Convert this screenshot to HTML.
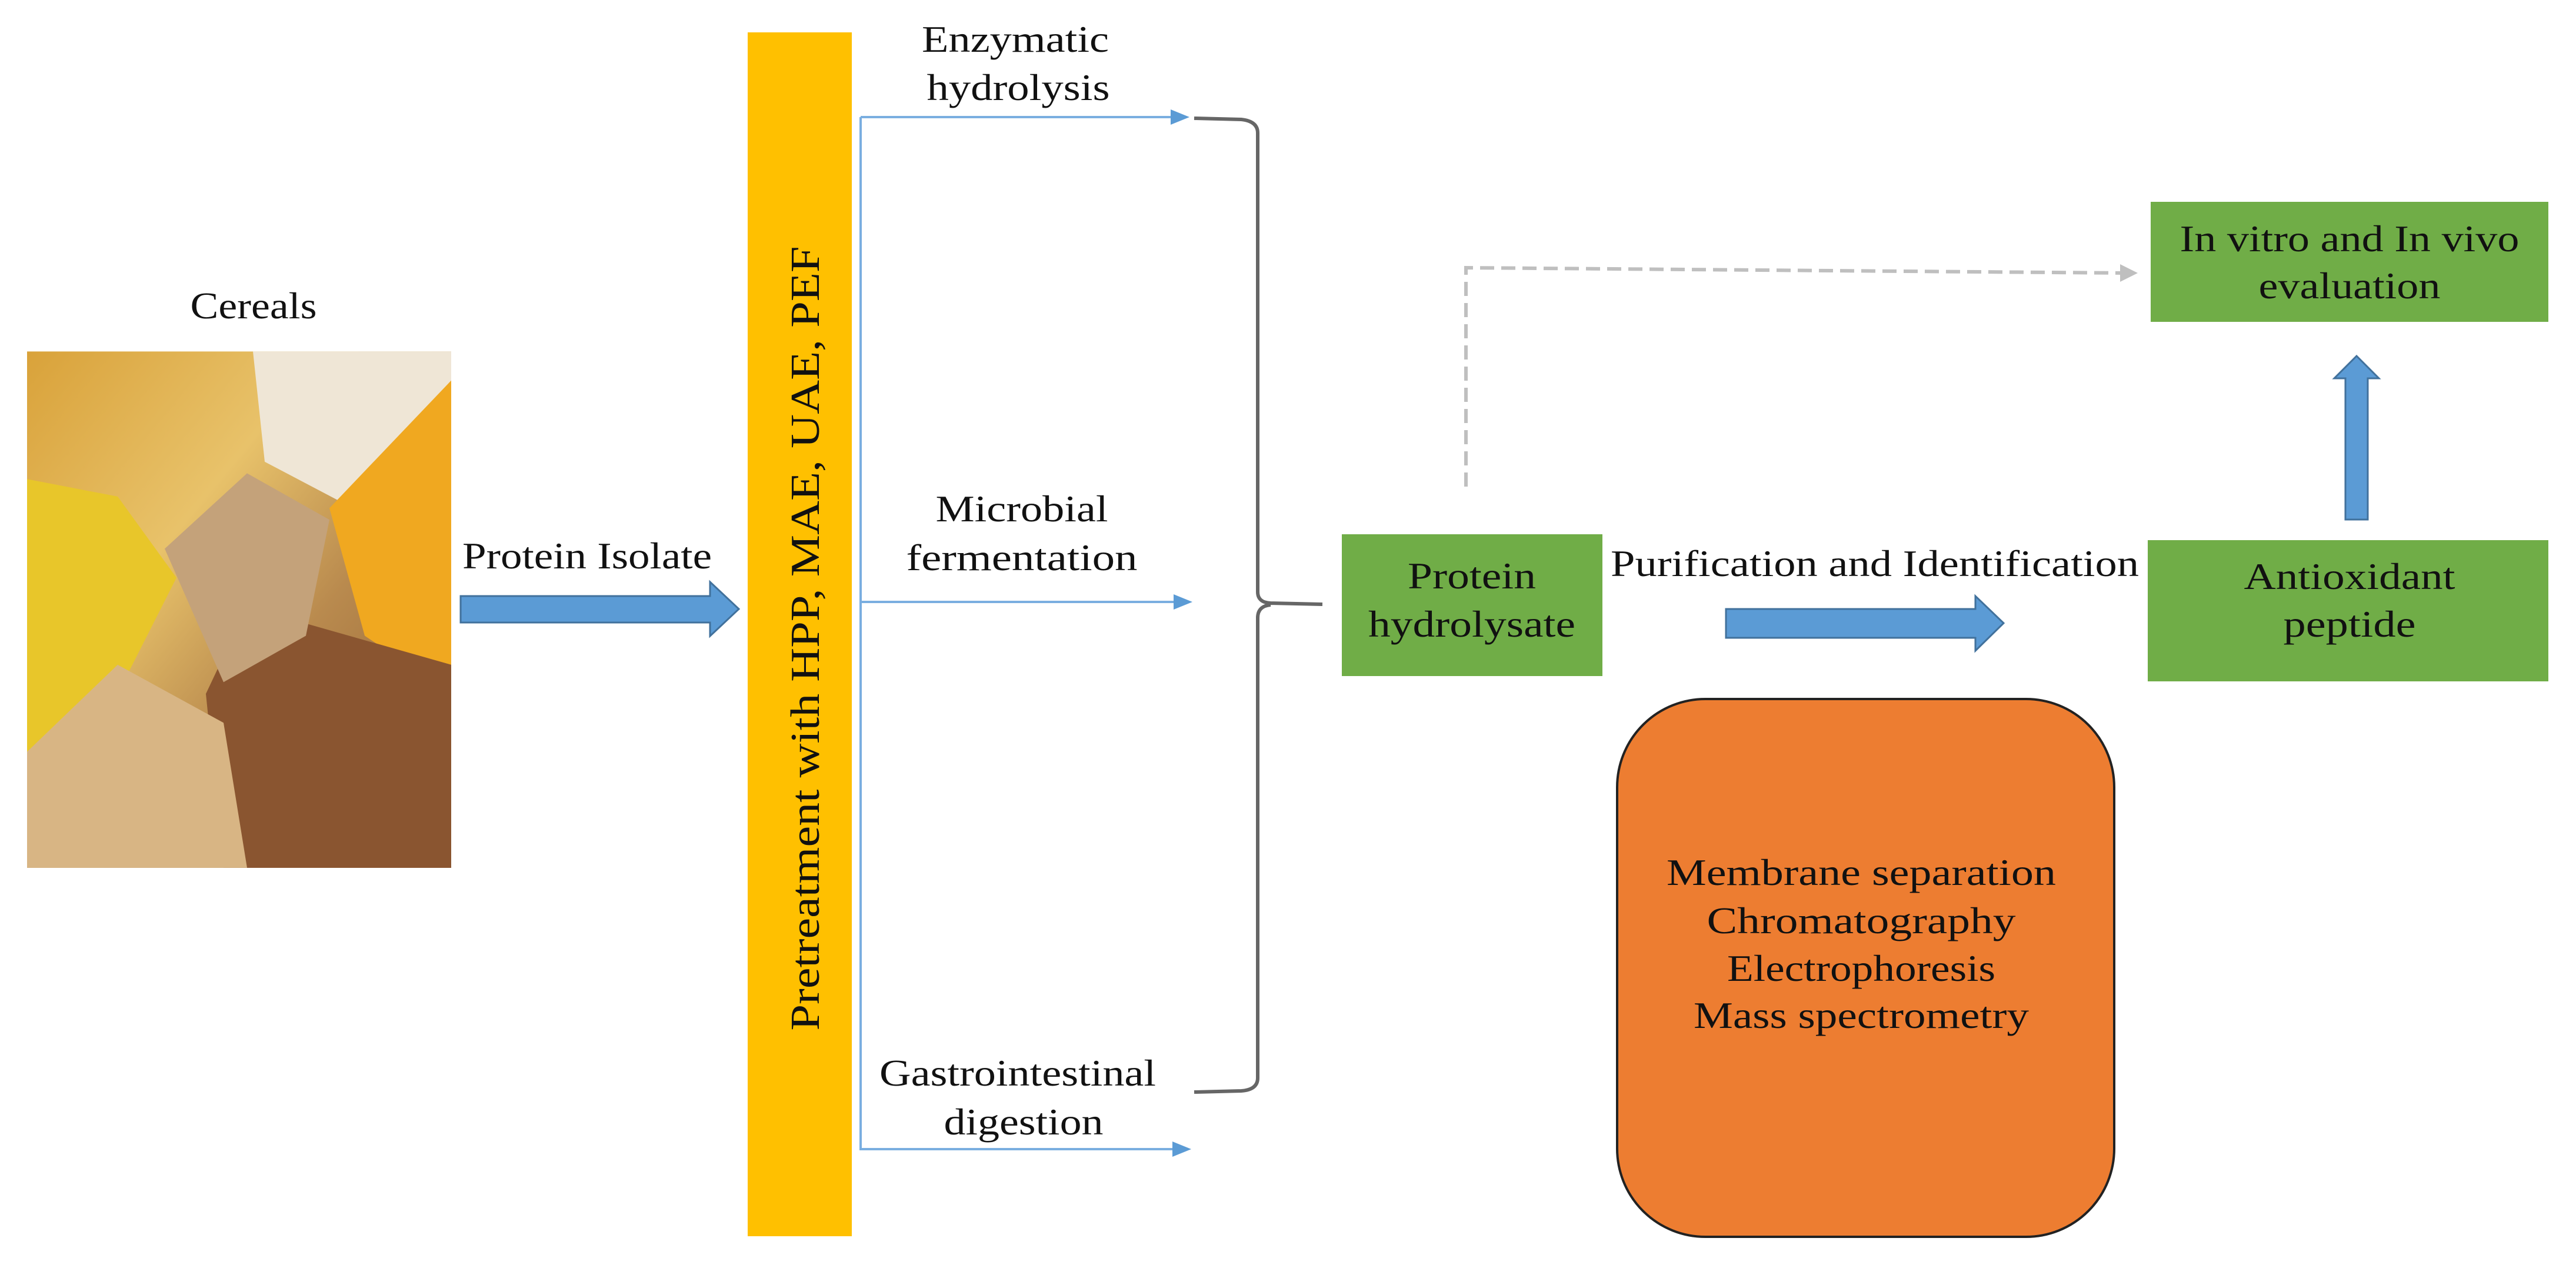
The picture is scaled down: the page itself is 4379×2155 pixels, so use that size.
<!DOCTYPE html>
<html><head><meta charset="utf-8"><style>
html,body{margin:0;padding:0;background:#fff;}
svg{display:block;}
text{font-family:"Liberation Serif",serif;fill:#111;}
</style></head><body>
<svg width="4379" height="2155" viewBox="0 0 4379 2155" xmlns="http://www.w3.org/2000/svg">
<defs>
<linearGradient id="g1" x1="0" y1="0" x2="1" y2="1">
<stop offset="0" stop-color="#d9a23a"/><stop offset="0.35" stop-color="#e8c26a"/><stop offset="0.6" stop-color="#b98a4e"/><stop offset="1" stop-color="#8a5a2e"/>
</linearGradient>
</defs>
<!-- Cereals -->
<text x="431" y="541" font-size="64" text-anchor="middle" textLength="215" lengthAdjust="spacingAndGlyphs">Cereals</text>
<g transform="translate(0,-12) scale(1,0.986) translate(0,8)">
<rect x="46" y="610" width="721" height="890" fill="url(#g1)"/>
<polygon points="46,830 200,860 300,1000 200,1200 46,1300" fill="#e8c62a"/>
<polygon points="430,610 767,610 767,900 600,880 450,800" fill="#efe6d6"/>
<polygon points="560,880 767,660 767,1200 620,1100" fill="#f0a820"/>
<polygon points="420,1050 767,1150 767,1500 380,1500 350,1200" fill="#8a5530"/>
<polygon points="46,1300 200,1150 380,1250 420,1500 46,1500" fill="#d8b584"/>
<polygon points="280,950 420,820 560,900 520,1100 380,1180" fill="#c4a27a"/>
</g>
<!-- Protein Isolate arrow -->
<text x="998" y="966" font-size="64" text-anchor="middle" textLength="424" lengthAdjust="spacingAndGlyphs">Protein Isolate</text>
<polygon points="783,1013 1207,1013 1207,989 1256,1035 1207,1081 1207,1058 783,1058" fill="#5b9bd5" stroke="#41719c" stroke-width="3"/>
<!-- Yellow bar -->
<rect x="1271" y="55" width="177" height="2046" fill="#ffc000"/>
<text transform="translate(1392,1085) rotate(-90)" font-size="70" text-anchor="middle" textLength="1333" lengthAdjust="spacingAndGlyphs">Pretreatment  with  HPP, MAE, UAE, PEF</text>
<!-- Blue lines -->
<g stroke="#7aaee0" stroke-width="4" fill="none">
<line x1="1463" y1="199" x2="1463" y2="1955"/>
<line x1="1463" y1="199" x2="1995" y2="199"/>
<line x1="1463" y1="1023" x2="2000" y2="1023"/>
<line x1="1463" y1="1953" x2="1998" y2="1953"/>
</g>
<g fill="#5b9bd5">
<polygon points="1990,186 2022,199 1990,212"/>
<polygon points="1995,1010 2027,1023 1995,1036"/>
<polygon points="1993,1940 2025,1953 1993,1966"/>
</g>
<text x="1726" y="88" font-size="64" text-anchor="middle" textLength="318" lengthAdjust="spacingAndGlyphs">Enzymatic</text>
<text x="1731" y="170" font-size="64" text-anchor="middle" textLength="311" lengthAdjust="spacingAndGlyphs">hydrolysis</text>
<text x="1737" y="886" font-size="64" text-anchor="middle" textLength="293" lengthAdjust="spacingAndGlyphs">Microbial</text>
<text x="1737" y="969" font-size="64" text-anchor="middle" textLength="393" lengthAdjust="spacingAndGlyphs">fermentation</text>
<text x="1730" y="1845" font-size="64" text-anchor="middle" textLength="470" lengthAdjust="spacingAndGlyphs">Gastrointestinal</text>
<text x="1740" y="1928" font-size="64" text-anchor="middle" textLength="271" lengthAdjust="spacingAndGlyphs">digestion</text>
<!-- Brace -->
<path d="M2030,201 L2110,203 Q2138,206 2138,226 L2138,1006 Q2138,1024 2160,1025 L2248,1027 M2160,1028 Q2138,1030 2138,1050 L2138,1832 Q2138,1852 2110,1854 L2030,1856" fill="none" stroke="#666" stroke-width="6"/>
<!-- Protein hydrolysate -->
<rect x="2281" y="908" width="443" height="241" fill="#70ad47"/>
<text x="2502" y="1000" font-size="64" text-anchor="middle" textLength="218" lengthAdjust="spacingAndGlyphs">Protein</text>
<text x="2502" y="1082" font-size="64" text-anchor="middle" textLength="352" lengthAdjust="spacingAndGlyphs">hydrolysate</text>
<!-- dashed -->
<path d="M2492,827 L2492,455 L3610,464" fill="none" stroke="#bfbfbf" stroke-width="6" stroke-dasharray="24,12"/>
<polygon points="3604,449 3634,464 3604,479" fill="#bfbfbf"/>
<!-- In vitro -->
<rect x="3656" y="343" width="676" height="204" fill="#70ad47"/>
<text x="3994" y="427" font-size="64" text-anchor="middle" textLength="577" lengthAdjust="spacingAndGlyphs">In vitro and In vivo</text>
<text x="3994" y="507" font-size="64" text-anchor="middle" textLength="309" lengthAdjust="spacingAndGlyphs">evaluation</text>
<!-- up arrow -->
<polygon points="3987,883 3987,643 3968,643 4006,605 4044,643 4025,643 4025,883" fill="#5b9bd5" stroke="#41719c" stroke-width="3"/>
<!-- Antioxidant -->
<rect x="3651" y="918" width="681" height="240" fill="#70ad47"/>
<text x="3994" y="1001" font-size="64" text-anchor="middle" textLength="359" lengthAdjust="spacingAndGlyphs">Antioxidant</text>
<text x="3994" y="1082" font-size="64" text-anchor="middle" textLength="225" lengthAdjust="spacingAndGlyphs">peptide</text>
<!-- Purification -->
<text x="3187" y="979" font-size="64" text-anchor="middle" textLength="898" lengthAdjust="spacingAndGlyphs">Purification and Identification</text>
<polygon points="2934,1035 3358,1035 3358,1013 3406,1059 3358,1106 3358,1084 2934,1084" fill="#5b9bd5" stroke="#41719c" stroke-width="3"/>
<!-- Orange box -->
<rect x="2749" y="1188" width="845" height="914" rx="150" ry="150" fill="#ed7d31" stroke="#222" stroke-width="4"/>
<text x="3164" y="1504" font-size="64" text-anchor="middle" textLength="662" lengthAdjust="spacingAndGlyphs">Membrane separation</text>
<text x="3164" y="1586" font-size="64" text-anchor="middle" textLength="525" lengthAdjust="spacingAndGlyphs">Chromatography</text>
<text x="3164" y="1667" font-size="64" text-anchor="middle" textLength="456" lengthAdjust="spacingAndGlyphs">Electrophoresis</text>
<text x="3164" y="1747" font-size="64" text-anchor="middle" textLength="570" lengthAdjust="spacingAndGlyphs">Mass spectrometry</text>
</svg>
</body></html>
